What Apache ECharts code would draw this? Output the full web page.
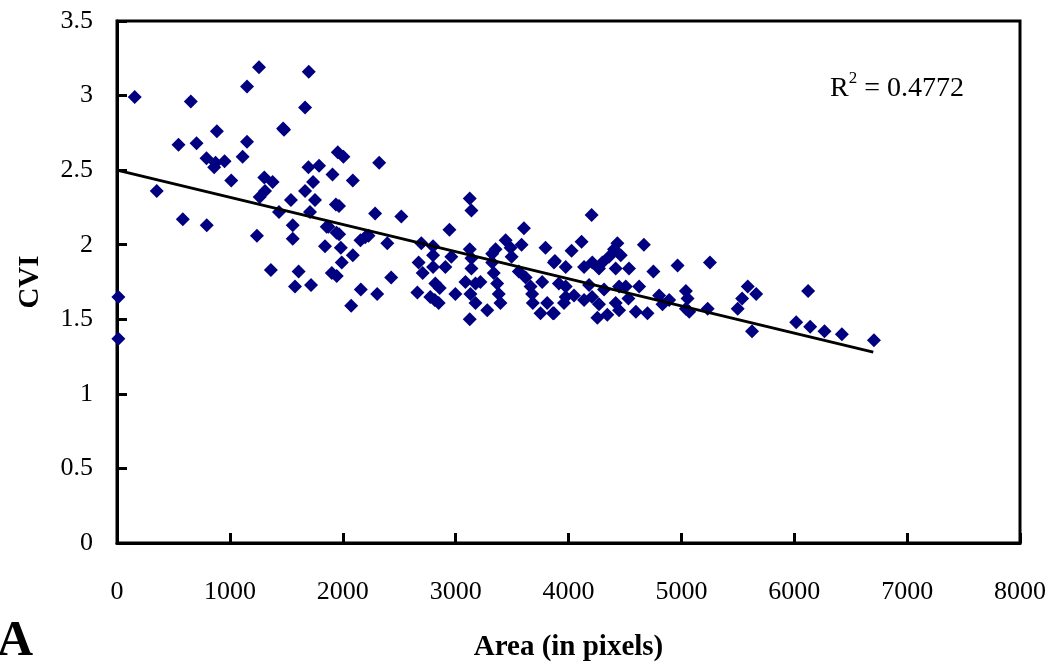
<!DOCTYPE html>
<html>
<head>
<meta charset="utf-8">
<script src="https://cdn.jsdelivr.net/npm/echarts@6/dist/echarts.min.js"></script>
<style>
  html, body { margin: 0; padding: 0; background: #fff; }
  #chart { width: 1057px; height: 671px; }
</style>
</head>
<body>
<div id="chart"></div>
<script>
// area (pixels) and CVI
var areaValues = [
    12, 12, 157, 352, 545, 583, 654, 705, 793, 795,
    861, 873, 885, 953, 1012, 1113, 1152, 1152, 1240, 1258,
    1264, 1305, 1311, 1363, 1379, 1435, 1472, 1480, 1541, 1557,
    1557, 1577, 1609, 1666, 1666, 1696, 1699, 1710, 1719, 1737,
    1754, 1790, 1843, 1858, 1873, 1903, 1909, 1939, 1945, 1947,
    1956, 1967, 1968, 1983, 1991, 2006, 2075, 2089, 2089, 2157,
    2160, 2199, 2228, 2287, 2305, 2323, 2395, 2429, 2519, 2661,
    2672, 2696, 2708, 2776, 2800, 2800, 2800, 2815, 2820, 2850,
    2859, 2909, 2945, 2962, 2998, 3087, 3125, 3125, 3125, 3131,
    3140, 3140, 3140, 3176, 3176, 3220, 3280, 3324, 3324, 3338,
    3354, 3368, 3382, 3397, 3443, 3487, 3496, 3560, 3584, 3605,
    3620, 3664, 3678, 3684, 3752, 3767, 3796, 3811, 3862, 3871,
    3871, 3880, 3915, 3960, 3975, 3975, 3975, 4027, 4049, 4116,
    4138, 4138, 4182, 4205, 4209, 4211, 4256, 4270, 4270, 4300,
    4315, 4344, 4359, 4403, 4418, 4418, 4433, 4448, 4448, 4463,
    4507, 4531, 4536, 4597, 4626, 4668, 4700, 4752, 4803, 4833,
    4892, 4966, 5040, 5040, 5055, 5070, 5233, 5253, 5499, 5538,
    5588, 5626, 5663, 6017, 6123, 6141, 6268, 6422, 6706
];
var cviValues = [
    1.65, 1.37, 2.99, 2.36, 2.67, 2.17, 2.96, 2.68, 2.58, 2.13,
    2.52, 2.55, 2.76, 2.56, 2.43, 2.59, 3.06, 2.69, 2.06, 3.19,
    2.32, 2.45, 2.36, 1.83, 2.42, 2.22, 2.78, 2.77, 2.30, 2.13,
    2.04, 1.72, 1.82, 2.92, 2.36, 2.52, 3.16, 2.22, 1.73, 2.42,
    2.30, 2.53, 1.99, 2.12, 2.12, 1.81, 2.47, 2.27, 2.08, 1.79,
    2.62, 2.26, 2.07, 1.98, 1.88, 2.59, 1.59, 2.43, 1.93, 2.03,
    1.70, 2.05, 2.06, 2.21, 1.67, 2.55, 2.01, 1.78, 2.19, 1.68,
    1.88, 2.01, 1.81, 1.65, 1.99, 1.93, 1.85, 1.63, 1.74, 1.61,
    1.71, 1.85, 2.10, 1.92, 1.67, 1.75, 2.31, 1.97, 1.50, 1.67,
    2.23, 1.91, 1.84, 1.74, 1.61, 1.75, 1.56, 1.94, 1.88, 1.81,
    1.97, 1.74, 1.67, 1.61, 2.03, 1.98, 1.92, 1.82, 2.00, 2.11,
    1.78, 1.72, 1.67, 1.61, 1.54, 1.75, 1.98, 1.61, 1.54, 1.88,
    1.54, 1.89, 1.74, 1.61, 1.85, 1.72, 1.65, 1.96, 1.66, 2.02,
    1.85, 1.63, 1.73, 2.20, 1.65, 1.88, 1.51, 1.84, 1.60, 1.88,
    1.70, 1.53, 1.92, 1.97, 1.84, 1.61, 2.01, 1.72, 1.56, 1.93,
    1.72, 1.64, 1.84, 1.55, 1.72, 2.00, 1.54, 1.82, 1.66, 1.60,
    1.63, 1.86, 1.69, 1.57, 1.64, 1.55, 1.57, 1.88, 1.57, 1.64,
    1.72, 1.42, 1.67, 1.48, 1.69, 1.45, 1.42, 1.40, 1.36
];
// linear trend line, ends
var trendX = [0, 6700];
var trendY = [2.50, 1.28];
var xTicks = [0, 1000, 2000, 3000, 4000, 5000, 6000, 7000, 8000];
var yTicks = [0, 0.5, 1, 1.5, 2, 2.5, 3, 3.5];
var rSquared = '0.4772';

var points = areaValues.map(function (a, i) { return [a, cviValues[i]]; });
var trend = trendX.map(function (x, i) { return [x, trendY[i]]; });

var myChart = echarts.init(document.getElementById('chart'));
var serif = '"Liberation Serif", "DejaVu Serif", serif';

var option = {
    backgroundColor: '#fff',
    animation: false,
    grid: {
        left: 117, right: 37, top: 21, bottom: 128,
        show: true,
        borderColor: '#000',
        borderWidth: 3
    },
    xAxis: {
        type: 'value',
        min: xTicks[0],
        max: xTicks[xTicks.length - 1],
        interval: 1000,
        name: 'Area (in pixels)',
        nameLocation: 'middle',
        nameGap: 90,
        nameTextStyle: { fontFamily: serif, fontSize: 29, fontWeight: 'bold', color: '#000' },
        axisLine: { lineStyle: { color: '#000', width: 3 } },
        axisTick: { inside: true, length: 10, lineStyle: { color: '#000', width: 3 } },
        axisLabel: {
            margin: 36, fontFamily: serif, fontSize: 26, color: '#000',
            formatter: function (v) { return String(v); }
        },
        splitLine: { show: false }
    },
    yAxis: {
        type: 'value',
        min: yTicks[0],
        max: yTicks[yTicks.length - 1],
        interval: 0.5,
        name: 'CVI',
        nameLocation: 'middle',
        nameGap: 72,
        nameTextStyle: { fontFamily: serif, fontSize: 29, fontWeight: 'bold', color: '#000' },
        axisLine: { lineStyle: { color: '#000', width: 3 } },
        axisTick: { inside: true, length: 10, lineStyle: { color: '#000', width: 3 } },
        axisLabel: { margin: 24, fontFamily: serif, fontSize: 26, color: '#000' },
        splitLine: { show: false }
    },
    series: [
        {
            type: 'scatter',
            symbol: 'diamond',
            symbolSize: 14,
            itemStyle: { color: '#000080', opacity: 1 },
            data: points
        },
        {
            type: 'line',
            data: trend,
            symbol: 'none',
            lineStyle: { color: '#000', width: 3 },
            z: 3
        }
    ],
    graphic: [
        {
            type: 'text',
            left: 830,
            top: 70,
            style: {
                text: '{r|R}{s|2}{r| = ' + rSquared + '}',
                rich: {
                    r: { fontFamily: serif, fontSize: 28, fill: '#000', verticalAlign: 'bottom' },
                    s: { fontFamily: serif, fontSize: 17, fill: '#000', padding: [0, 0, 16, 0], verticalAlign: 'bottom' }
                }
            }
        },
        {
            type: 'text',
            left: -3,
            top: 617,
            style: { text: 'A', fontFamily: serif, fontSize: 50, fontWeight: 'bold', fill: '#000' }
        }
    ]
};

myChart.setOption(option);
</script>
</body>
</html>
